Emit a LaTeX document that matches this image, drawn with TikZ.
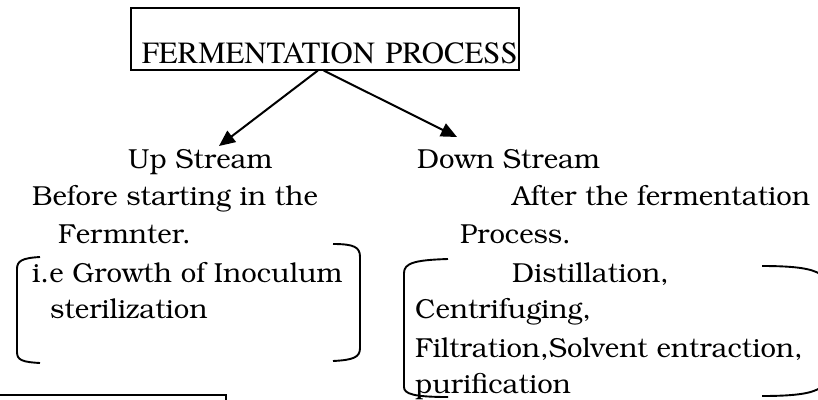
\documentclass[tikz,border=0pt]{standalone}
\usepackage[T1]{fontenc}
\usetikzlibrary{arrows.meta}
\newcommand\bodyfnt{\fontfamily{pbk}\fontseries{l}\fontshape{n}\fontsize{27.5}{37}\selectfont}
\newcommand\titlefnt{\fontfamily{ptm}\fontseries{m}\fontshape{n}\fontsize{30.8}{36}\selectfont}
\tikzset{
  body/.style={anchor=base west, inner sep=0pt, font=\bodyfnt},
  brk/.style={line width=1.9pt},
  arr/.style={line width=2pt, -{Triangle[length=16pt,width=14pt]}},
}
\begin{document}
\begin{tikzpicture}[x=1pt,y=-1pt]
\useasboundingbox (0,0) rectangle (818,399);
\clip (0,0) rectangle (818,399);
% title box
\node[draw, line width=1.6pt, anchor=north west, inner xsep=0pt, inner ysep=0pt,
      text width=388pt, align=left, text height=56pt, text depth=6pt, font=\titlefnt]
  (title) at (130,7) {\hspace*{11pt}FERMENTATION PROCESS};
% headings
\node[body] (up) at (128,168) {Up Stream};
\node[body] (down) at (417,168) {Down Stream};
% arrows
\coordinate (upend) at (219,146);
\coordinate (downend) at (457,137);
\draw[arr] ([xshift=-7pt]title.south) -- (upend);
\draw[arr] ([xshift=-1pt]title.south) -- (downend);
% left column
\node[body] (l1) at (32,205) {Before starting in the};
\node[body] (l2) at (58,243) {Fermnter.};
\node[body] (l3) at (32,282) {i.e Growth of Inoculum};
\node[body] (l4) at (50,318) {sterilization};
% right column
\node[body] (r1) at (512,205) {After the fermentation};
\node[body] (r2) at (460,243) {Process.};
\node[body] (r3) at (512,282) {Distillation,};
\node[body] (r4) at (415,318) {Centrifuging,};
\node[body] (r5) at (415,357) {Filtration,Solvent entraction,};
\node[body] (r6) at (415,393) {purification};
% brackets left group
\draw[brk] (40,257) .. controls (22,258) and (17,261) .. (17,269) -- (17,352)
  .. controls (17,360) and (22,362) .. (40,363);
\draw[brk] (333,244) .. controls (354,244) and (360,247) .. (360,257) -- (360,348)
  .. controls (360,357) and (354,360) .. (333,361);
% brackets right group
\draw[brk] (448,259) .. controls (415,260) and (404,263) .. (404,273) -- (404,387)
  .. controls (404,394) and (414,397) .. (448,397);
\draw[brk] (762,266) .. controls (798,266) and (812,269) .. (820,274);
\draw[brk] (762,396) .. controls (798,396) and (812,393) .. (820,388);
% bottom-left box
\draw[line width=1.6pt] (-2,395) -- (226,395) -- (226,402);
\end{tikzpicture}
\end{document}
